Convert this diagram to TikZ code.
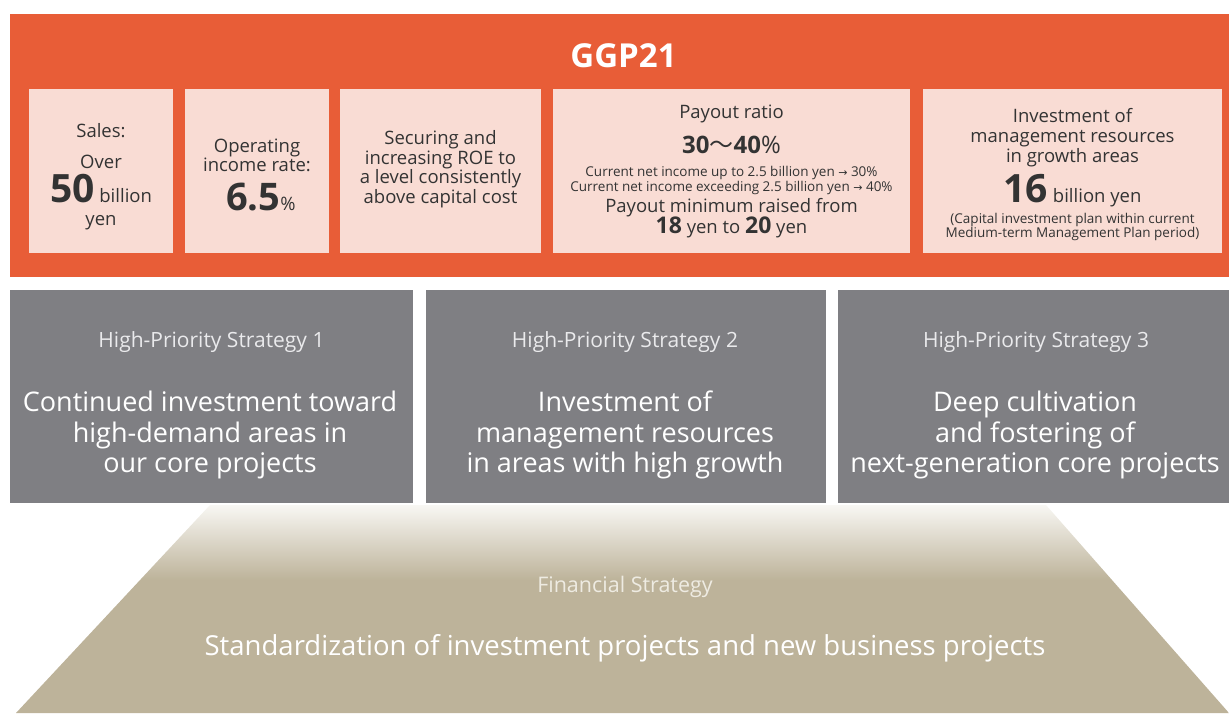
\documentclass[tikz,border=0pt]{standalone}
\usepackage{fontspec}
\setmainfont{Open Sans}
\newfontfamily\cjkfont{Noto Sans CJK JP}
\newfontfamily\symbfont{DejaVu Sans}

\definecolor{ggporange}{HTML}{E85D37}
\definecolor{ggppink}{HTML}{F9DCD4}
\definecolor{ggpgray}{HTML}{7F7F83}
\definecolor{ggptan}{HTML}{BDB39A}
\definecolor{ggpmist}{HTML}{F8F7F3}
\definecolor{ggpink}{HTML}{333333}
\definecolor{ggplabel}{HTML}{EAEAEC}
\definecolor{ggptanlabel}{HTML}{EEEBE2}

% tan base fading towards white at its top edge
\pgfdeclareverticalshading{tanfade}{100bp}{color(0bp)=(ggptan); color(25bp)=(ggptan); color(57bp)=(ggptan); color(75bp)=(ggpmist); color(100bp)=(ggpmist)}

\newcommand\setfs[1]{\fontsize{#1}{#1}\selectfont}
\newcommand\rarr{{\symbfont\setfs{11}→}}

\tikzset{
  txt/.style={anchor=base, inner sep=0pt, text=ggpink},
  wtxt/.style={anchor=base, inner sep=0pt, text=white},
  pinkbox/.style={fill=ggppink},
  graybox/.style={fill=ggpgray},
  body/.style={font={\setfs{18.5}}},
  note/.style={font={\setfs{13.5}}},
  glabel/.style={wtxt, text=ggplabel, font={\setfs{21}}},
  gmain/.style={wtxt, font={\setfs{27}}},
}

\begin{document}
\begin{tikzpicture}[x=1pt,y=-1pt]
\useasboundingbox (0,0) rectangle (1229,713);

% ---------- GGP21 banner ----------
\fill[ggporange] (10,14) rectangle (1229,277);
\node[wtxt, font={\setfs{33}\bfseries}] (title) at (623.5,67) {GGP21};

\fill[pinkbox] (29,89) rectangle (173,253);
\fill[pinkbox] (185,89) rectangle (329,253);
\fill[pinkbox] (340,89) rectangle (541,253);
\fill[pinkbox] (553,89) rectangle (910,253);
\fill[pinkbox] (923,89) rectangle (1222,253);

% sales
\node[txt, body] (sa1) at (101,137) {Sales:};
\node[txt, body] (sa2) at (101,168) {Over};
\node[txt, body] (sa3) at (101,202) {{\setfs{39}\bfseries 50} billion};
\node[txt, body] (sa4) at (101,225) {yen};

% operating income rate
\node[txt, body] (op1) at (257,152) {Operating};
\node[txt, body] (op2) at (257,171) {income rate:};
\node[txt, body] (op3) at (261,210) {{\setfs{38}\bfseries 6.5}\%};

% ROE
\node[txt, body] (ro1) at (440.5,144) {Securing and};
\node[txt, body] (ro2) at (440.5,164) {increasing ROE to};
\node[txt, body] (ro3) at (440.5,183) {a level consistently};
\node[txt, body] (ro4) at (440.5,203) {above capital cost};

% payout ratio
\node[txt, body] (pa1) at (731.5,118) {Payout ratio};
\node[txt, font={\setfs{24}}] (pa2) at (731.5,153) {{\bfseries 30}{\cjkfont ～}{\bfseries 40}\%};
\node[txt, note] (pa3) at (731.5,176) {Current net income up to 2.5 billion yen \rarr\ 30\%};
\node[txt, note] (pa4) at (731.5,191) {Current net income exceeding 2.5 billion yen \rarr\ 40\%};
\node[txt, body] (pa5) at (731.5,212) {Payout minimum raised from};
\node[txt, body] (pa6) at (731.5,233) {{\setfs{23}\bfseries 18} yen to {\setfs{23}\bfseries 20} yen};

% growth investment
\node[txt, body] (gr1) at (1072.5,122) {Investment of};
\node[txt, body] (gr2) at (1072.5,142) {management resources};
\node[txt, body] (gr3) at (1072.5,162) {in growth areas};
\node[txt, body] (gr4) at (1072.5,202) {{\setfs{39}\bfseries 16} billion yen};
\node[txt, note] (gr5) at (1072.5,223) {(Capital investment plan within current};
\node[txt, note] (gr6) at (1072.5,237) {Medium-term Management Plan period)};

% ---------- high-priority strategies ----------
\fill[graybox] (10,290) rectangle (413,503);
\fill[graybox] (426,290) rectangle (826,503);
\fill[graybox] (838,290) rectangle (1229,503);

\node[glabel] (h1a) at (211.5,347) {High-Priority Strategy 1};
\node[gmain] (h1b) at (210,411) {Continued investment toward};
\node[gmain] (h1c) at (210,442) {high-demand areas in};
\node[gmain] (h1d) at (210,472) {our core projects};

\node[glabel] (h2a) at (625,347) {High-Priority Strategy 2};
\node[gmain] (h2b) at (625,411) {Investment of};
\node[gmain] (h2c) at (625,442) {management resources};
\node[gmain] (h2d) at (625,472) {in areas with high growth};

\node[glabel] (h3a) at (1036,347) {High-Priority Strategy 3};
\node[gmain] (h3b) at (1035,411) {Deep cultivation};
\node[gmain] (h3c) at (1035,442) {and fostering of};
\node[gmain] (h3d) at (1035,472) {next-generation core projects};

% ---------- financial strategy base ----------
\shade[shading=tanfade] (210,505) -- (1046,505) -- (1229,713) -- (16,713) -- cycle;
\node[wtxt, text=ggptanlabel, font={\setfs{21.5}}] (fs1) at (625,592) {Financial Strategy};
\node[wtxt, font={\setfs{27.5}}] (fs2) at (625,655) {Standardization of investment projects and new business projects};

\end{tikzpicture}
\end{document}
